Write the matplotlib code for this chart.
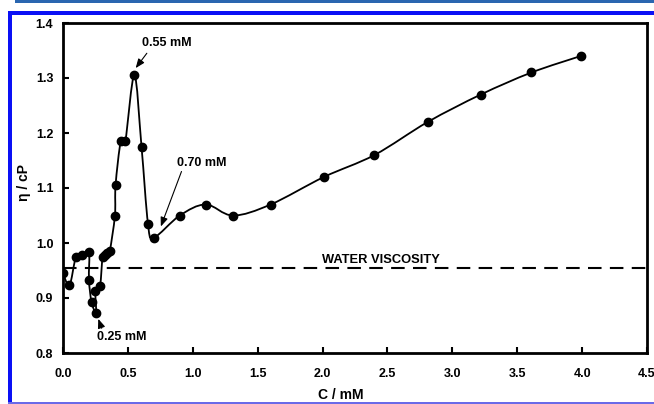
import numpy as np
import matplotlib
matplotlib.use("Agg")
import matplotlib.pyplot as plt
from matplotlib.path import Path
from matplotlib.patches import PathPatch, Rectangle

plt.rcParams['font.family'] = ['Liberation Sans', 'DejaVu Sans']
plt.rcParams['font.weight'] = 'bold'

# ---- data ----
conc = [0.00, 0.05, 0.10, 0.15, 0.20, 0.20, 0.22, 0.255, 0.25, 0.285, 0.305,
        0.32, 0.34, 0.36, 0.40, 0.405, 0.445, 0.48, 0.55, 0.605, 0.655, 0.70,
        0.90, 1.10, 1.31, 1.60, 2.01, 2.40, 2.81, 3.22, 3.61, 3.99]
visc = [0.945, 0.923, 0.975, 0.979, 0.984, 0.933, 0.893, 0.873, 0.913, 0.922, 0.975,
        0.978, 0.982, 0.985, 1.050, 1.105, 1.185, 1.185, 1.305, 1.175, 1.035, 1.010,
        1.050, 1.070, 1.050, 1.070, 1.120, 1.160, 1.220, 1.270, 1.310, 1.340]
water_visc = 0.954
x_ticks = [0.0, 0.5, 1.0, 1.5, 2.0, 2.5, 3.0, 3.5, 4.0, 4.5]
y_ticks = [0.8, 0.9, 1.0, 1.1, 1.2, 1.3, 1.4]
note_labels = ["0.55 mM", "0.70 mM", "0.25 mM"]

W, H = 654, 404
fig = plt.figure(figsize=(W / 100, H / 100), dpi=100)

# decorative frame (figure pixels -> fraction)
def frect(x0, y0, x1, y1, color):
    fig.patches.append(Rectangle((x0 / W, 1 - y1 / H), (x1 - x0) / W, (y1 - y0) / H,
                                 transform=fig.transFigure, color=color, zorder=0, lw=0))
frect(15, 0, 654, 3, '#2a66b0')
frect(8, 11, 654, 15, '#0a10f5')
frect(8, 11, 12, 404, '#0a10f5')
frect(8, 402, 654, 404, '#6a6ae8')

ax = fig.add_axes([63 / W, 1 - 353 / H, (647 - 63) / W, (353 - 23) / H])
ax.set_xlim(0, 4.5)
ax.set_ylim(0.8, 1.4)

# smooth (Catmull-Rom style) curve through the points
P = np.column_stack([conc, visc])
n = len(P)
verts = [P[0]]
codes = [Path.MOVETO]
for i in range(n - 1):
    p0 = P[i - 1] if i > 0 else P[i]
    p1 = P[i]
    p2 = P[i + 1]
    p3 = P[i + 2] if i + 2 < n else P[i + 1]
    c1 = p1 + (p2 - p0) / 6.0
    c2 = p2 - (p3 - p1) / 6.0
    verts += [c1, c2, p2]
    codes += [Path.CURVE4] * 3
ax.add_patch(PathPatch(Path(verts, codes), fill=False, lw=1.3, color='black', zorder=3))
ax.plot(conc, visc, 'o', color='black', ms=6, zorder=4)

ax.axhline(water_visc, color='black', lw=1.5, dashes=(6.5, 4), zorder=2)
ax.text(2.45, water_visc + 0.005, "WATER VISCOSITY", fontsize=9.3, fontweight='bold',
        va='bottom', ha='center')

arrow = dict(arrowstyle='-|>,head_length=0.55,head_width=0.22', color='black', lw=0.8,
             shrinkA=0, shrinkB=0)
ax.text(0.80, 1.364, note_labels[0], fontsize=9, fontweight='bold', ha='center', va='center')
ax.annotate("", xy=(0.56, 1.318), xytext=(0.646, 1.345), arrowprops=arrow)
ax.text(1.07, 1.145, note_labels[1], fontsize=9, fontweight='bold', ha='center', va='center')
ax.annotate("", xy=(0.754, 1.03), xytext=(0.913, 1.13), arrowprops=arrow)
ax.text(0.454, 0.829, note_labels[2], fontsize=9, fontweight='bold', ha='center', va='center')
ax.annotate("", xy=(0.272, 0.862), xytext=(0.298, 0.845), arrowprops=arrow)

ax.set_xticks(x_ticks)
ax.set_xticklabels([f"{v:.1f}" for v in x_ticks])
ax.set_yticks(y_ticks)
ax.set_yticklabels([f"{v:.1f}" for v in y_ticks])
ax.tick_params(axis='both', direction='in', length=4, width=1.5, labelsize=9)
ax.tick_params(axis='x', pad=11)
ax.tick_params(axis='y', pad=7)
for lab in ax.get_xticklabels() + ax.get_yticklabels():
    lab.set_fontweight('bold')
for s in ax.spines.values():
    s.set_linewidth(2)

fig.text(341 / W, 1 - 395 / H, "C / mM", fontsize=10, fontweight='bold',
         ha='center', va='center')
fig.text(24 / W, 1 - 183 / H, "η / cP", fontsize=10, fontweight='bold',
         ha='center', va='center', rotation=90)

fig.savefig("out.png", dpi=100)
